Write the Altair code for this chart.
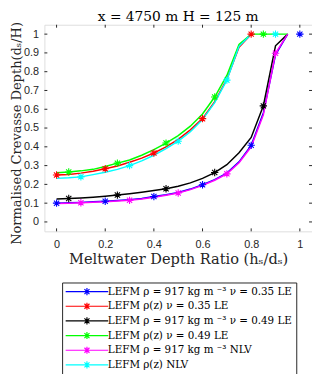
import altair as alt
import pandas as pd

# ---------------- data ----------------
series = [
    "LEFM ρ = 917 kg m ⁻³ ν = 0.35 LE",
    "LEFM ρ(z) ν = 0.35 LE",
    "LEFM ρ = 917 kg m ⁻³ ν = 0.49 LE",
    "LEFM ρ(z) ν = 0.49 LE",
    "LEFM ρ = 917 kg m ⁻³ NLV",
    "LEFM ρ(z) NLV",
]
colors = ["#0000ff", "#ff0000", "#000000", "#00ff00", "#ff00ff", "#00ffff"]

x_full = [0.0, 0.05, 0.1, 0.15, 0.2, 0.25, 0.3, 0.35, 0.4, 0.45,
          0.5, 0.55, 0.6, 0.65, 0.7, 0.75, 0.8, 0.85, 0.9, 0.95]
x_short = [0.0, 0.05, 0.1, 0.15, 0.2, 0.25, 0.3, 0.35, 0.4, 0.45,
           0.5, 0.55, 0.6, 0.65, 0.7, 0.75, 0.8]

y_blue = [0.100, 0.102, 0.104, 0.107, 0.110, 0.114, 0.118, 0.125, 0.135, 0.145,
          0.157, 0.175, 0.198, 0.225, 0.260, 0.320, 0.408, 0.580, 0.890, 1.0]
y_red = [0.250, 0.253, 0.260, 0.270, 0.283, 0.298, 0.318, 0.340, 0.367, 0.400,
         0.440, 0.490, 0.550, 0.640, 0.760, 0.930, 1.0]
y_black = [0.122, 0.125, 0.128, 0.132, 0.137, 0.143, 0.150, 0.158, 0.167, 0.177,
           0.190, 0.208, 0.232, 0.263, 0.305, 0.368, 0.450, 0.618, 0.938, 1.0]
y_green = [0.262, 0.266, 0.272, 0.280, 0.295, 0.313, 0.330, 0.355, 0.385, 0.420,
           0.460, 0.510, 0.575, 0.665, 0.780, 0.945, 1.0, 1.0, 1.0, 1.0]
y_magenta = [0.098, 0.100, 0.102, 0.105, 0.108, 0.111, 0.115, 0.122, 0.132, 0.142,
             0.154, 0.172, 0.195, 0.222, 0.256, 0.315, 0.400, 0.570, 0.898, 1.0]
y_cyan = [0.232, 0.235, 0.240, 0.252, 0.265, 0.280, 0.300, 0.325, 0.355, 0.390,
          0.430, 0.480, 0.545, 0.635, 0.755, 0.935, 1.0]

line_x = [x_full, x_short, x_full, x_full, x_full, x_short]
line_y = [y_blue, y_red, y_black, y_green, y_magenta, y_cyan]

mk_x_blue = [0.0, 0.2, 0.4, 0.6, 0.8, 1.0]
mk_y_blue = [0.100, 0.110, 0.135, 0.198, 0.408, 1.0]
mk_x_red = [0.0, 0.2, 0.4, 0.6, 0.8]
mk_y_red = [0.250, 0.283, 0.367, 0.550, 1.0]
mk_x_black = [0.05, 0.25, 0.45, 0.65, 0.85]
mk_y_black = [0.125, 0.143, 0.177, 0.263, 0.618]
mk_x_green = [0.05, 0.25, 0.45, 0.65, 0.85]
mk_y_green = [0.266, 0.313, 0.420, 0.665, 1.0]
mk_x_magenta = [0.1, 0.3, 0.5, 0.7, 0.9]
mk_y_magenta = [0.102, 0.115, 0.154, 0.256, 0.898]
mk_x_cyan = [0.1, 0.3, 0.5, 0.7, 0.9]
mk_y_cyan = [0.240, 0.300, 0.430, 0.755, 1.0]

mk_x = [mk_x_blue, mk_x_red, mk_x_black, mk_x_green, mk_x_magenta, mk_x_cyan]
mk_y = [mk_y_blue, mk_y_red, mk_y_black, mk_y_green, mk_y_magenta, mk_y_cyan]

x_ticks = [0.0, 0.2, 0.4, 0.6, 0.8, 1.0]
y_ticks = [0.0, 0.1, 0.2, 0.3, 0.4, 0.5, 0.6, 0.7, 0.8, 0.9, 1.0]

title_text = "x = 4750 m H = 125 m"
x_title = "Meltwater Depth Ratio (hₛ/dₛ)"
y_title = "Normalised Crevasse Depth(dₛ/H)"

# ---------------- tables ----------------
lines_df = pd.DataFrame(
    [{"series": s, "order": i, "x": xv, "y": yv}
     for i, s in enumerate(series)
     for xv, yv in zip(line_x[i], line_y[i])]
)
marks_df = pd.DataFrame(
    [{"series": s, "order": i, "x": xv, "y": yv}
     for i, s in enumerate(series)
     for xv, yv in zip(mk_x[i], mk_y[i])]
)
xt_df = pd.DataFrame({"x": x_ticks})
yt_df = pd.DataFrame({"y": y_ticks})

W, H = 272, 210
AX = "#262626"
SERIF = "DejaVu Serif"
SANS = "Liberation Sans"
STAR = "M0,-1L0,1M-1,0L1,0M-0.71,-0.71L0.71,0.71M-0.71,0.71L0.71,-0.71"
LEG_SYM = "M-6,0L6,0M0,-1L0,1M-0.71,-0.71L0.71,0.71M-0.71,0.71L0.71,-0.71"

xscale = alt.Scale(domain=[-0.05, 1.05], nice=False, zero=False)
yscale = alt.Scale(domain=[-0.05, 1.05], nice=False, zero=False)
cscale = alt.Scale(domain=series, range=colors)

xaxis = alt.Axis(values=x_ticks, format=".1~f", title=x_title, grid=False,
                 ticks=False, domain=False, labelFont=SANS, labelFontSize=11,
                 labelColor=AX, labelPadding=7, titleFont=SERIF, titleFontSize=14.8,
                 titleFontWeight="normal", titleColor=AX, titleX=136, titleY=33,
                 titleBaseline="alphabetic")
yaxis = alt.Axis(values=y_ticks, format=".1~f", title=y_title, grid=False,
                 ticks=False, domain=False, labelFont=SANS, labelFontSize=11,
                 labelColor=AX, labelPadding=6, titleFont=SERIF, titleFontSize=13.2,
                 titleFontWeight="normal", titleColor=AX, titleX=-24, titleY=110,
                 titleAngle=270, titleBaseline="alphabetic", titleAlign="center")

legend = alt.Legend(
    title=None, orient="none", legendX=18, legendY=262, direction="vertical",
    symbolType=LEG_SYM, symbolSize=52, symbolStrokeWidth=1.2, symbolFillColor="transparent",
    symbolOffset=16, labelOffset=16, labelFont=SERIF, labelFontSize=10.5, labelColor="#000000",
    labelLimit=400, rowPadding=1.9, padding=4, strokeColor=AX, fillColor="#ffffff",
    cornerRadius=0,
)

lines = alt.Chart(lines_df).mark_line(strokeWidth=1.5).encode(
    x=alt.X("x:Q", scale=xscale, axis=xaxis),
    y=alt.Y("y:Q", scale=yscale, axis=yaxis),
    color=alt.Color("series:N", scale=cscale, sort=series, legend=legend),
    detail="order:O",
    order="x:Q",
)

points = alt.Chart(marks_df).mark_point(shape=STAR, filled=False, size=56, strokeWidth=1.1,
                                         opacity=1).encode(
    x=alt.X("x:Q", scale=xscale, axis=xaxis),
    y=alt.Y("y:Q", scale=yscale, axis=yaxis),
    color=alt.Color("series:N", scale=cscale, sort=series, legend=legend),
    order="order:O",
)

tick_style = dict(color=AX, strokeWidth=1)
xt_bottom = alt.Chart(xt_df).mark_rule(**tick_style).encode(
    x=alt.X("x:Q", scale=xscale, axis=xaxis), y=alt.value(H), y2=alt.value(H - 3))
xt_top = alt.Chart(xt_df).mark_rule(**tick_style).encode(
    x=alt.X("x:Q", scale=xscale, axis=xaxis), y=alt.value(0), y2=alt.value(3))
yt_left = alt.Chart(yt_df).mark_rule(**tick_style).encode(
    y=alt.Y("y:Q", scale=yscale, axis=yaxis), x=alt.value(0), x2=alt.value(3))
yt_right = alt.Chart(yt_df).mark_rule(**tick_style).encode(
    y=alt.Y("y:Q", scale=yscale, axis=yaxis), x=alt.value(W), x2=alt.value(W - 3))

chart = alt.layer(xt_bottom, xt_top, yt_left, yt_right, lines, points).properties(
    width=W, height=H,
    title=alt.TitleParams(title_text, font=SERIF, fontSize=14, fontWeight="normal",
                          color="#000000", offset=-2, anchor="middle"),
    autosize=alt.AutoSizeParams(type="none"),
    padding={"left": 37, "top": 14, "right": 0, "bottom": 142},
).configure_view(stroke=AX, strokeWidth=1).configure(background="#ffffff")

chart.save("out.html", embed_options={"renderer": "svg", "actions": False})
